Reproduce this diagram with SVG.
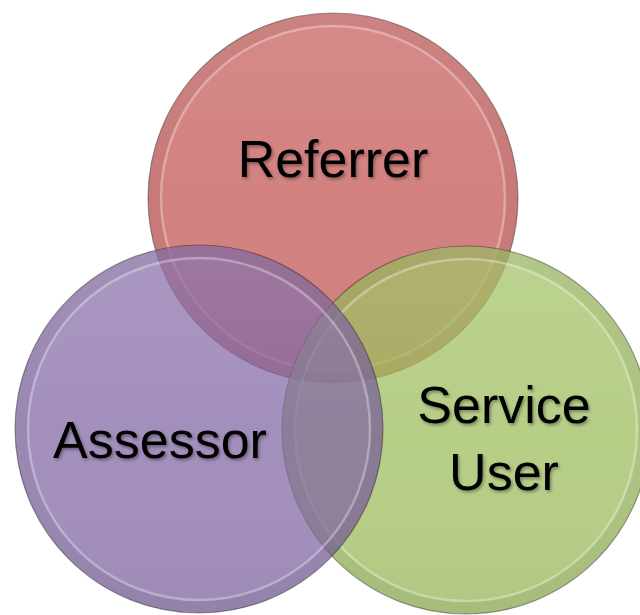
<svg xmlns="http://www.w3.org/2000/svg" width="640" height="615" viewBox="0 0 640 615">
  <defs>
    <filter id="shadow" x="-10%" y="-20%" width="120%" height="150%">
      <feDropShadow dx="1.5" dy="2" stdDeviation="1.5" flood-color="#000" flood-opacity="0.35"/>
    </filter>
    <linearGradient id="gloss" x1="0" y1="0" x2="0" y2="1">
      <stop offset="0" stop-color="#fff" stop-opacity="0.08"/>
      <stop offset="0.5" stop-color="#fff" stop-opacity="0"/>
      <stop offset="1" stop-color="#000" stop-opacity="0.04"/>
    </linearGradient>
  </defs>
  <style>
    .disc { fill-opacity: 0.72; stroke: #000; stroke-opacity: 0.35; stroke-width: 1.2; }
    .band { fill: none; stroke: #000; stroke-opacity: 0.05; stroke-width: 12; }
    .rim { fill: none; stroke: #fff; stroke-opacity: 0.3; stroke-width: 2.5; }
    .sheen { fill: url(#gloss); }
    .label { font-family: "Liberation Sans", Arial, sans-serif; font-size: 52px; fill: #000; text-anchor: middle; filter: url(#shadow); }
  </style>
  <rect width="640" height="615" fill="#fff"/>
  <g id="referrer">
    <circle class="disc" cx="333" cy="198" r="185" fill="#c0504d"/>
    <circle class="sheen" cx="333" cy="198" r="185"/>
    <circle class="band" cx="333" cy="198" r="179"/>
    <circle class="rim" cx="333" cy="198" r="172"/>
    <text class="label" x="333" y="177">Referrer</text>
  </g>
  <g id="service-user">
    <circle class="disc" cx="466" cy="430" r="184" fill="#9bbb59"/>
    <circle class="sheen" cx="466" cy="430" r="184"/>
    <circle class="band" cx="466" cy="430" r="178"/>
    <circle class="rim" cx="466" cy="430" r="171"/>
    <text class="label" x="504" y="423">Service</text>
    <text class="label" x="504" y="490">User</text>
  </g>
  <g id="assessor">
    <circle class="disc" cx="199" cy="429" r="184" fill="#8064a2"/>
    <circle class="sheen" cx="199" cy="429" r="184"/>
    <circle class="band" cx="199" cy="429" r="178"/>
    <circle class="rim" cx="199" cy="429" r="171"/>
    <text class="label" x="160" y="458">Assessor</text>
  </g>
</svg>
